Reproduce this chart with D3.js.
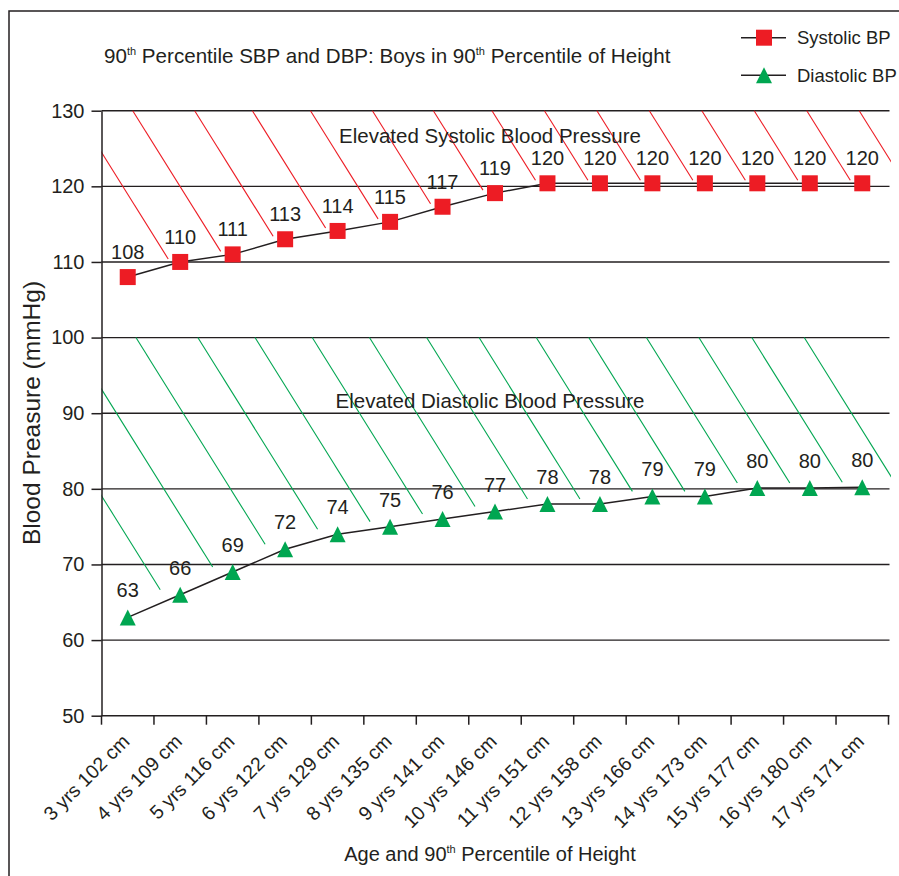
<!DOCTYPE html>
<html>
<head>
<meta charset="utf-8">
<script src="https://cdn.jsdelivr.net/npm/d3@7"></script>
<style>
body { margin: 0; background: #fff; }
text { font-family: "Liberation Sans", Arial, sans-serif; fill: #231f20; }
</style>
</head>
<body>
<div id="chart"></div>
<script>
// values
const categories = ['3 yrs 102 cm', '4 yrs 109 cm', '5 yrs 116 cm', '6 yrs 122 cm', '7 yrs 129 cm',
    '8 yrs 135 cm', '9 yrs 141 cm', '10 yrs 146 cm', '11 yrs 151 cm', '12 yrs 158 cm',
    '13 yrs 166 cm', '14 yrs 173 cm', '15 yrs 177 cm', '16 yrs 180 cm', '17 yrs 171 cm'];
const systolic = [108, 110, 111, 113, 114.1, 115.3, 117.3, 119.1, 120.4, 120.4, 120.4, 120.4, 120.4, 120.4, 120.4];
const diastolic = [63, 66, 69, 72, 74, 75, 76, 77, 78, 78, 79, 79, 80.1, 80.1, 80.2];
const yTicks = [50, 60, 70, 80, 90, 100, 110, 120, 130];

const width = 899;
const height = 876;
const margin = {top: 110.7, right: 10.5, bottom: 160.3, left: 101.5};
const ink = '#231f20';
const red = '#ed1c24';
const green = '#00a651';

const svg = d3.select('#chart')
    .append('svg')
    .attr('width', width)
    .attr('height', height)
    .attr('viewBox', [0, 0, width, height]);

const x = d3.scaleBand()
    .domain(categories)
    .range([margin.left, width - margin.right])
    .padding(0);

const y = d3.scaleLinear()
    .domain([50, 130])
    .range([height - margin.bottom, margin.top]);

const cx = i => x(categories[0]) + x.step() * (i + 0.5);

// outer frame (only top and left edges visible)
svg.append('path')
    .attr('d', `M9,${height} V11 H${width}`)
    .attr('fill', 'none')
    .attr('stroke', ink)
    .attr('stroke-width', 1.5);

// title with superscripts
const title = svg.append('text')
    .attr('x', 104)
    .attr('y', 63)
    .attr('font-size', 20.6);
title.append('tspan').text('90');
title.append('tspan').attr('font-size', 11).attr('dy', -8).text('th');
title.append('tspan').attr('dy', 8).text(' Percentile SBP and DBP: Boys in 90');
title.append('tspan').attr('font-size', 11).attr('dy', -8).text('th');
title.append('tspan').attr('dy', 8).text(' Percentile of Height');

// gridlines
svg.append('g')
    .selectAll('line')
    .data(yTicks.slice(1))
    .join('line')
    .attr('x1', margin.left)
    .attr('x2', width - margin.right + 1)
    .attr('y1', d => y(d))
    .attr('y2', d => y(d))
    .attr('stroke', ink)
    .attr('stroke-width', 1.4);

// hatching for the elevated zones, one stroke leaning on each point
const slope = 1.6;
svg.append('clipPath')
    .attr('id', 'plotclip')
    .append('rect')
    .attr('x', margin.left)
    .attr('y', 0)
    .attr('width', width - margin.right - margin.left + 2.5)
    .attr('height', height);

function hatch(values, top, dx, dy, color) {
    const idx = d3.range(1, values.length + 1);
    svg.append('g')
        .attr('clip-path', 'url(#plotclip)')
        .selectAll('line')
        .data(idx)
        .join('line')
        .attr('x2', i => cx(i) + dx)
        .attr('y2', i => y(values[Math.min(i, values.length - 1)]) + dy)
        .attr('x1', i => cx(i) + dx - (y(values[Math.min(i, values.length - 1)]) + dy - y(top)) / slope)
        .attr('y1', y(top))
        .attr('stroke', color)
        .attr('stroke-width', 1.1);
}
hatch(systolic, 130, -12, -3, red);
hatch(diastolic, 100, -20, -5, green);

// zone labels
svg.append('text')
    .attr('x', 490)
    .attr('y', 143)
    .attr('text-anchor', 'middle')
    .attr('font-size', 20.5)
    .text('Elevated Systolic Blood Pressure');
svg.append('text')
    .attr('x', 490)
    .attr('y', 408)
    .attr('text-anchor', 'middle')
    .attr('font-size', 20.5)
    .text('Elevated Diastolic Blood Pressure');

// y axis
svg.append('g')
    .attr('transform', `translate(${margin.left},0)`)
    .call(d3.axisLeft(y).tickValues(yTicks).tickSize(10).tickSizeOuter(0).tickPadding(7))
    .call(g => g.selectAll('path, line').attr('stroke', ink).attr('stroke-width', 1.5))
    .call(g => g.selectAll('text').attr('font-size', 20).attr('fill', ink)
        .attr('font-family', '"Liberation Sans", Arial, sans-serif'));

// x axis: ticks on the band edges
const xAxis = svg.append('g');
xAxis.append('line')
    .attr('x1', margin.left)
    .attr('x2', width - margin.right + 1)
    .attr('y1', y(50))
    .attr('y2', y(50))
    .attr('stroke', ink)
    .attr('stroke-width', 1.5);
xAxis.selectAll('.tick')
    .data(categories.map(c => x(c)).concat(x.range()[1]))
    .join('line')
    .attr('class', 'tick')
    .attr('x1', d => d)
    .attr('x2', d => d)
    .attr('y1', y(50))
    .attr('y2', y(50) + 9)
    .attr('stroke', ink)
    .attr('stroke-width', 1.5);
xAxis.selectAll('text')
    .data(categories)
    .join('text')
    .attr('transform', d => `translate(${x(d) + x.bandwidth() / 2 + 3},${y(50) + 27}) rotate(-45)`)
    .attr('text-anchor', 'end')
    .attr('font-size', 19.5)
    .text(d => d);

// axis titles
svg.append('text')
    .attr('transform', 'translate(40,413) rotate(-90)')
    .attr('text-anchor', 'middle')
    .attr('font-size', 24.5)
    .text('Blood Preasure (mmHg)');
const xTitle = svg.append('text')
    .attr('x', 490)
    .attr('y', 861)
    .attr('text-anchor', 'middle')
    .attr('font-size', 20);
xTitle.append('tspan').text('Age and 90');
xTitle.append('tspan').attr('font-size', 11).attr('dy', -8).text('th');
xTitle.append('tspan').attr('dy', 8).text(' Percentile of Height');

// series
const line = d3.line()
    .x((d, i) => cx(i))
    .y(d => y(d));
const triangle = 'M0,-8L8,8L-8,8Z';

svg.append('path')
    .datum(systolic)
    .attr('d', line)
    .attr('fill', 'none')
    .attr('stroke', ink)
    .attr('stroke-width', 1.5);
svg.append('path')
    .datum(diastolic)
    .attr('d', line)
    .attr('fill', 'none')
    .attr('stroke', ink)
    .attr('stroke-width', 1.5);

svg.append('g')
    .attr('fill', red)
    .selectAll('rect')
    .data(systolic)
    .join('rect')
    .attr('x', (d, i) => cx(i) - 8)
    .attr('y', d => y(d) - 8)
    .attr('width', 16)
    .attr('height', 16);
svg.append('g')
    .attr('fill', green)
    .selectAll('path')
    .data(diastolic)
    .join('path')
    .attr('transform', (d, i) => `translate(${cx(i)},${y(d)})`)
    .attr('d', triangle);

// point labels
svg.append('g')
    .selectAll('text')
    .data(systolic)
    .join('text')
    .attr('x', (d, i) => cx(i))
    .attr('y', d => y(d) - 18)
    .attr('text-anchor', 'middle')
    .attr('font-size', 20)
    .text(d => Math.round(d));
svg.append('g')
    .selectAll('text')
    .data(diastolic)
    .join('text')
    .attr('x', (d, i) => cx(i))
    .attr('y', d => y(d) - 20)
    .attr('text-anchor', 'middle')
    .attr('font-size', 20)
    .text(d => Math.round(d));

// legend
const legend = svg.append('g');
[['Systolic BP', 37.7], ['Diastolic BP', 75.3]].forEach(([name, ly], k) => {
    legend.append('line')
        .attr('x1', 741).attr('x2', 786)
        .attr('y1', ly).attr('y2', ly)
        .attr('stroke', ink).attr('stroke-width', 1.5);
    if (k === 0) {
        legend.append('rect')
            .attr('x', 756).attr('y', ly - 8)
            .attr('width', 16).attr('height', 16)
            .attr('fill', red);
    } else {
        legend.append('path')
            .attr('transform', `translate(764,${ly})`)
            .attr('d', triangle)
            .attr('fill', green);
    }
    legend.append('text')
        .attr('x', 797)
        .attr('y', ly + 6.5)
        .attr('font-size', 18.5)
        .text(name);
});
</script>
</body>
</html>
